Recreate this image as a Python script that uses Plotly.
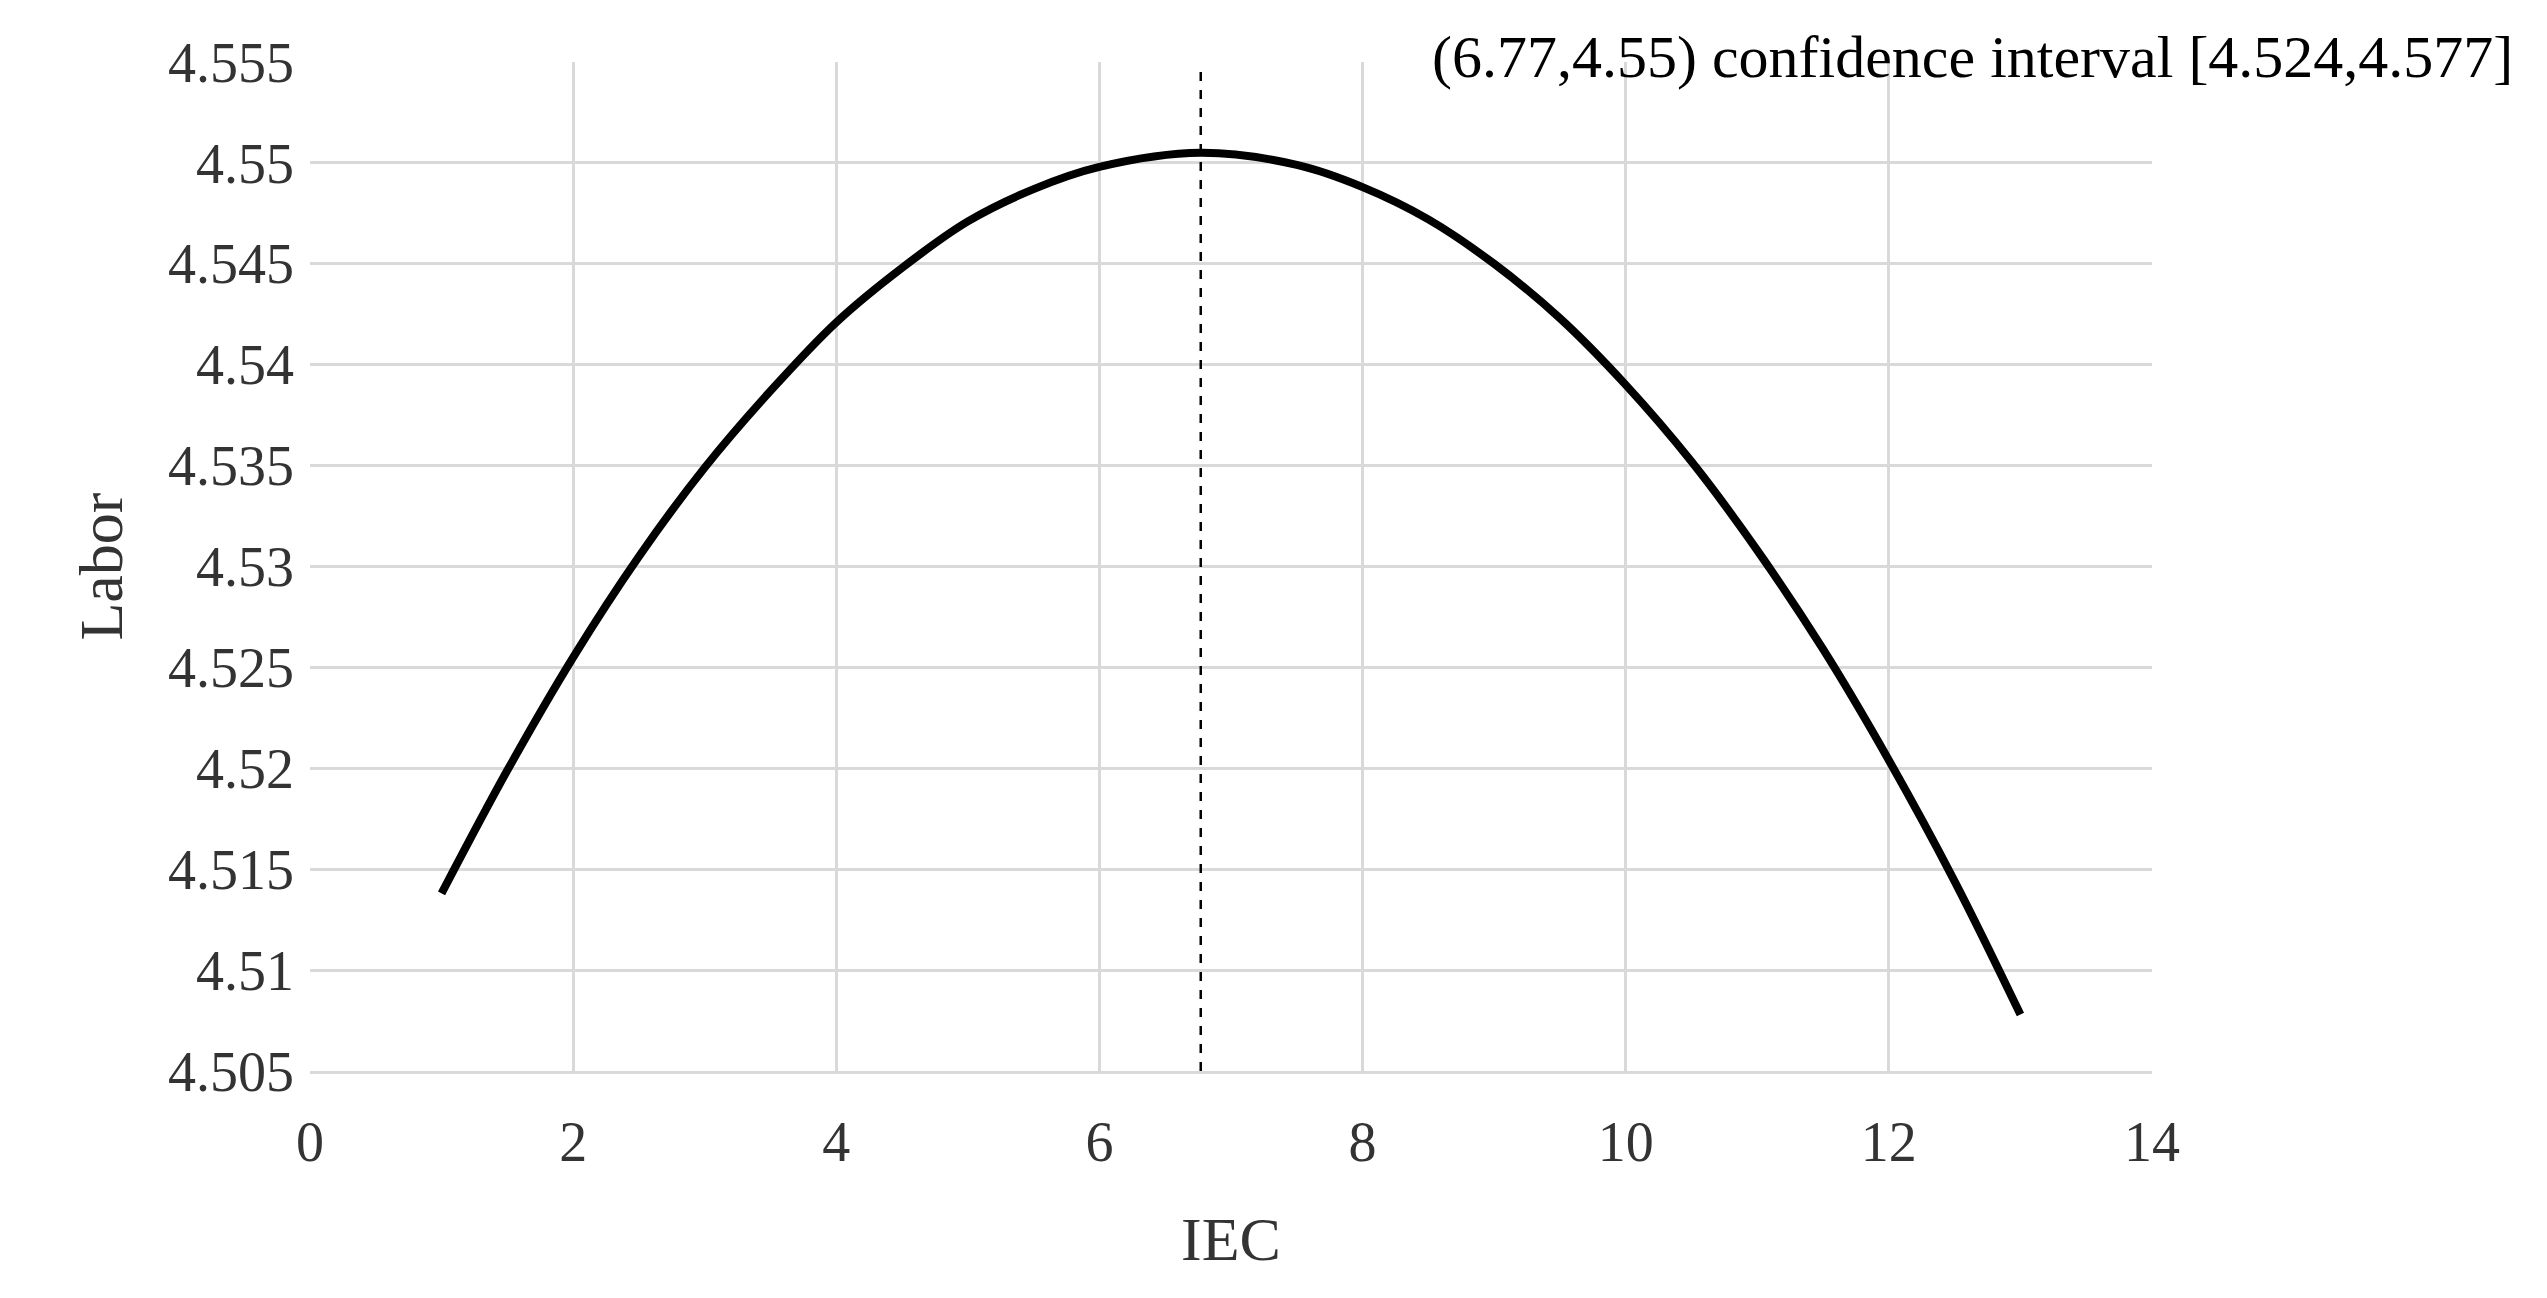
import plotly.graph_objects as go

iec = [1, 1.5, 2, 2.5, 3, 3.5, 4, 4.5, 5, 5.5, 6, 6.77, 7.5, 8, 8.5, 9, 9.5, 10, 10.5, 11, 11.5, 12, 12.5, 13]
labor = [4.5138, 4.5199, 4.5255, 4.5305, 4.5349, 4.5387, 4.5421, 4.5448, 4.5471, 4.5487, 4.5498, 4.5505,
         4.5499, 4.5488, 4.5472, 4.5450, 4.5423, 4.5390, 4.5352, 4.5308, 4.5259, 4.5204, 4.5144, 4.5078]
peak_x = 6.77
dash_top = 4.5545
annot = "(6.77,4.55) confidence interval [4.524,4.577]"

font = "Liberation Serif, DejaVu Serif, serif"
fig = go.Figure()
fig.add_trace(go.Scatter(x=iec, y=labor, mode="lines", line=dict(color="black", width=8, shape="spline", smoothing=1),
                         showlegend=False))
fig.add_trace(go.Scatter(x=[peak_x, peak_x], y=[4.505, dash_top], mode="lines",
                         line=dict(color="black", width=2.5, dash="dash"), showlegend=False))
fig.add_annotation(x=1.197, y=1.005, xref="paper", yref="paper", xanchor="right", yanchor="middle",
                   text=annot, showarrow=False, font=dict(size=60, color="black", family=font))
fig.update_layout(
    width=2547, height=1298, plot_bgcolor="white", paper_bgcolor="white",
    margin=dict(l=302, r=403, t=54, b=235),
    font=dict(family=font, size=56, color="#333"),
    xaxis=dict(range=[0, 14], dtick=2, showgrid=True, gridcolor="#d9d9d9", gridwidth=3,
               zeroline=False, showline=True, linecolor="#d9d9d9", linewidth=3, ticklabelstandoff=20,
               title=dict(text="IEC", font=dict(size=62, color="#333"), standoff=45), ticks=""),
    yaxis=dict(range=[4.505, 4.555], showgrid=True, gridcolor="#d9d9d9", gridwidth=3,
               zeroline=False, showline=False, ticks="", ticklabelstandoff=15,
               tickvals=[4.505, 4.51, 4.515, 4.52, 4.525, 4.53, 4.535, 4.54, 4.545, 4.55, 4.555],
               ticktext=["4.505", "4.51", "4.515", "4.52", "4.525", "4.53", "4.535", "4.54", "4.545", "4.55", "4.555"],
               title=dict(text="Labor", font=dict(size=62, color="#333"), standoff=25)),
)
fig.write_html("out.html")
